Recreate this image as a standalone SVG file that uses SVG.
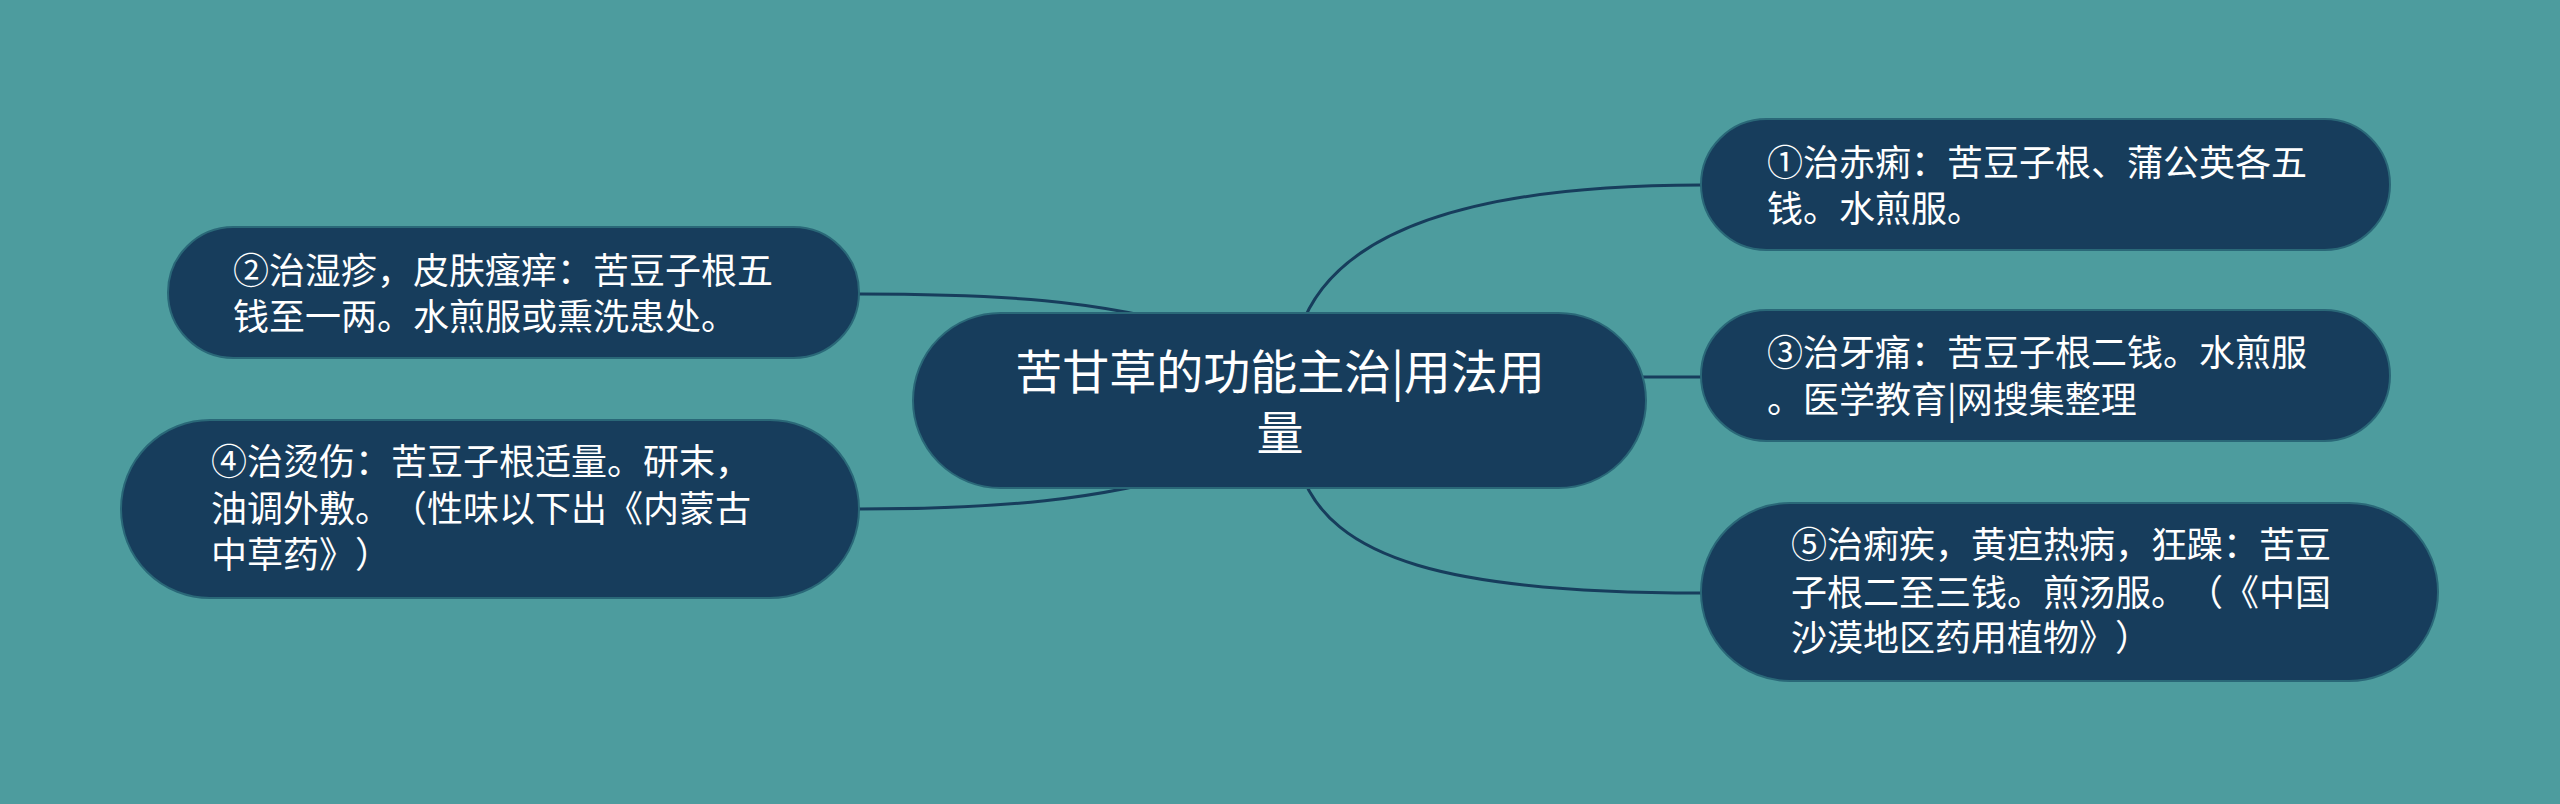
<svg xmlns="http://www.w3.org/2000/svg" width="2560" height="804" viewBox="0 0 2560 804">
<style>
.node{fill:#173d5c;stroke:#2a6878;stroke-width:2}
text{text-spacing-trim:space-all}
.t{font-family:"Noto Sans CJK SC","Noto Sans",sans-serif;fill:#ffffff;font-size:36px}
.tc{font-family:"Noto Sans CJK SC","Noto Sans",sans-serif;fill:#ffffff;font-size:47px;text-anchor:middle}
.c{fill:none;stroke:#173d5c;stroke-width:3}
</style>
<rect width="2560" height="804" fill="#4d9c9e"/>
<g id="connectors">
<path class="c" d="M1300 330 C1330 240 1450 185 1701 185"/>
<path class="c" d="M1640 377 L1701 377"/>
<path class="c" d="M1300 470 C1330 560 1450 593 1701 593"/>
<path class="c" d="M859 294 C1000 294 1100 300 1200 330"/>
<path class="c" d="M859 509 C1000 509 1100 500 1200 470"/>
</g>
<g id="center">
<rect class="node" x="913" y="313" width="733" height="175" rx="87.5"/>
<text class="tc" x="1280" y="389">苦甘草的功能主治|用法用</text>
<text class="tc" x="1280" y="450">量</text>
</g>
<g id="n1">
<rect class="node" x="1701" y="119" width="689" height="131" rx="65.5"/>
<text class="t" x="1767" y="176">①治赤痢：苦豆子根、蒲公英各五</text>
<text class="t" x="1767" y="222">钱。水煎服。</text>
</g>
<g id="n2">
<rect class="node" x="168" y="227" width="691" height="131" rx="65.5"/>
<text class="t" x="233" y="284">②治湿疹，皮肤瘙痒：苦豆子根五</text>
<text class="t" x="233" y="330">钱至一两。水煎服或熏洗患处。</text>
</g>
<g id="n3">
<rect class="node" x="1701" y="310" width="689" height="131" rx="65.5"/>
<text class="t" x="1767" y="366">③治牙痛：苦豆子根二钱。水煎服</text>
<text class="t" x="1767" y="413">。医学教育|网搜集整理</text>
</g>
<g id="n4">
<rect class="node" x="121" y="420" width="738" height="178" rx="89"/>
<text class="t" x="211" y="475">④治烫伤：苦豆子根适量。研末，</text>
<text class="t" x="211" y="522">油调外敷。（性味以下出《内蒙古</text>
<text class="t" x="211" y="568">中草药》）</text>
</g>
<g id="n5">
<rect class="node" x="1701" y="503" width="737" height="178" rx="89"/>
<text class="t" x="1791" y="558">⑤治痢疾，黄疸热病，狂躁：苦豆</text>
<text class="t" x="1791" y="606">子根二至三钱。煎汤服。（《中国</text>
<text class="t" x="1791" y="651">沙漠地区药用植物》）</text>
</g>
</svg>
